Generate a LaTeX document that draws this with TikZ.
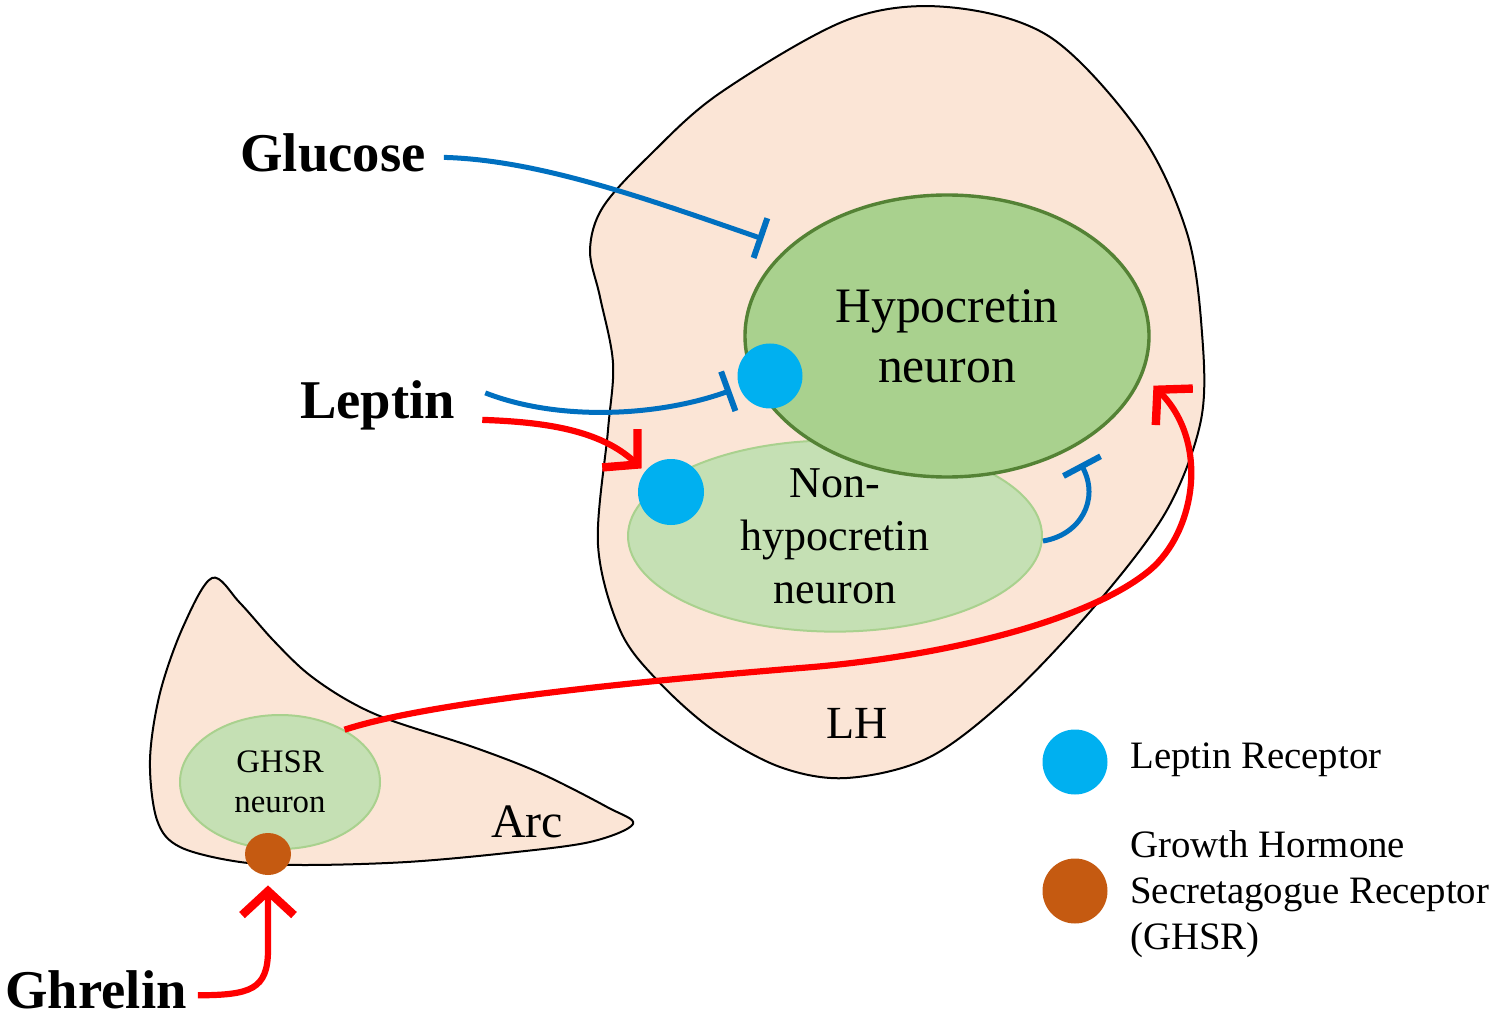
\documentclass[tikz,border=0pt]{standalone}
\usepackage{fontspec}
\setmainfont{Liberation Serif}
\usetikzlibrary{calc,shapes.geometric,arrows.meta}

\definecolor{lhfill}{HTML}{FBE5D6}
\definecolor{hcrtfill}{HTML}{A9D18E}
\definecolor{hcrtline}{HTML}{548235}
\definecolor{nonfill}{HTML}{C5E0B4}
\definecolor{inhblue}{HTML}{0070C0}
\definecolor{lepblue}{HTML}{00B0F0}
\definecolor{ghsrbrown}{HTML}{C55A11}

\tikzset{
  region/.style={fill=lhfill, draw=black, line width=1pt},
  cell/.style={ellipse, inner sep=0pt, align=center},
  receptor/.style={circle, inner sep=0pt, minimum size=32.5pt},
  hormone/.style={font=\fontsize{27.3}{30}\selectfont\bfseries, inner sep=0pt, anchor=base},
  label/.style={inner sep=0pt, anchor=base},
  inhibit/.style={draw=inhblue, line width=2.5pt, -{Bar[width=21pt,line width=0pt 1.2]}},
  excite/.style={draw=red, line width=3.1pt, -{Straight Barb[length=12pt,width=26pt,line width=0pt 1.35]}},
}

\begin{document}
\begin{tikzpicture}[x=0.5pt,y=-0.5pt]
\useasboundingbox (0,0) rectangle (1495,1016);

% LH and Arc
\draw[region] plot[smooth cycle, tension=0.55] coordinates {
  (947,7) (1050,37) (1140,133) (1187,233) (1202,333) (1201,420)
  (1167,510) (1100,600) (1013,693) (930,757) (847,778) (780,767)
  (713,730) (657,680) (620,630) (598,545) (608,430) (613,363)
  (600,297) (590,250) (603,207) (650,155) (720,93) (847,20)};
\draw[region] plot[smooth cycle, tension=0.55] coordinates {
  (212,578) (240,603) (273,640) (307,673) (347,700) (390,720)
  (473,747) (540,773) (607,807) (633,824) (590,842) (507,853)
  (407,862) (307,865) (240,862) (180,847) (157,820) (150,760)
  (160,693) (183,627)};
\node[label, font=\fontsize{23}{25}\selectfont] (lhlbl) at (857,738) {LH};
\node[label, font=\fontsize{24}{26}\selectfont] (arclbl) at (527,837) {Arc};

% neurons
\node[cell, fill=nonfill, draw=hcrtfill, line width=1pt, minimum width=207pt, minimum height=87pt,
  font=\fontsize{22}{26.5}\selectfont] (non) at (835,536) {Non-\\hypocretin\\neuron};
\node[cell, fill=hcrtfill, draw=hcrtline, line width=1.7pt, minimum width=202pt, minimum height=141pt,
  font=\fontsize{24.8}{30}\selectfont] (hcrt) at (947,336) {Hypocretin\\neuron};
\node[cell, fill=nonfill, draw=hcrtfill, line width=1pt, minimum width=100pt, minimum height=67pt,
  font=\fontsize{16.4}{20}\selectfont] (ghsrn) at (280,782) {GHSR\\neuron};

% receptors
\node[receptor, fill=lepblue] (lr1) at (770,376) {};
\node[receptor, fill=lepblue, minimum size=33pt] (lr2) at (671,492) {};
\node[ellipse, inner sep=0pt, fill=ghsrbrown, minimum width=23pt, minimum height=21pt] (gr) at (268,854) {};

% hormones
\node[hormone] (glu) at (333,172) {Glucose};
\node[hormone] (lep) at (377.5,418) {Leptin};
\node[hormone] (ghr) at (96,1008) {Ghrelin};

\draw[inhibit] ($(glu.east)+(18,4)$) .. controls (540,160) and (650,200) .. ($(hcrt.153)+(-19,-13)$);
\draw[inhibit] ($(lep.east)+(30,-12)$) .. controls (560,422) and (660,416) .. ($(lr1.200)+(-8,3)$);
\draw[excite] ($(lep.east)+(27,15)$) .. controls (545,422) and (600,430) .. ($(lr2.142)+(-3,-3)$);
\draw[inhibit] ($(non.east)+(0,5)$) .. controls (1080,535) and (1100,500) .. ($(hcrt.-44)+(14,12)$);
\draw[excite] (ghsrn.39) .. controls (420,705) and (600,684) .. (813,667)
  .. controls (950,655) and (1090,620) .. (1150,570)
  .. controls (1195,532) and (1210,443) .. ($(hcrt.-13)+(13,5)$);
\draw[excite] ($(ghr.east)+(11,6)$) .. controls (250,995) and (268,990) .. (268,950) -- ($(gr.south)+(0,10)$);

% key
\node[receptor, fill=lepblue] (lrkey) at (1075,762) {};
\node[receptor, fill=ghsrbrown] (grkey) at (1075,891) {};
\node[label, anchor=base west, font=\fontsize{19.4}{23}\selectfont] (lrtxt) at (1130,768) {Leptin Receptor};
\node[inner sep=0pt, anchor=west, align=left, font=\fontsize{19.4}{23}\selectfont] (grtxt) at (1130,894)
  {Growth Hormone\\Secretagogue Receptor\\(GHSR)};
\end{tikzpicture}
\end{document}
